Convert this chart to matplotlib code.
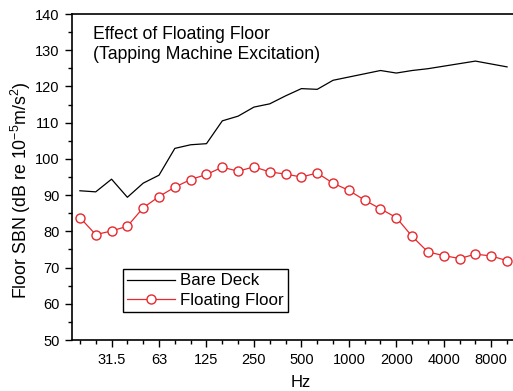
import matplotlib.pyplot as plt

plt.rcParams['font.family'] = ['Liberation Sans', 'DejaVu Sans']
plt.rcParams['mathtext.fontset'] = 'custom'
plt.rcParams['mathtext.rm'] = 'Liberation Sans'
plt.rcParams['mathtext.it'] = 'Liberation Sans'

# third-octave bands 20 Hz .. 10 kHz
bands = ['20', '25', '31.5', '40', '50', '63', '80', '100', '125', '160', '200', '250',
         '315', '400', '500', '630', '800', '1000', '1250', '1600', '2000', '2500',
         '3150', '4000', '5000', '6300', '8000', '10000']
tick_labels = ['31.5', '63', '125', '250', '500', '1000', '2000', '4000', '8000']

bare_deck = [91.2, 90.9, 94.4, 89.4, 93.3, 95.5, 102.9, 103.9, 104.2, 110.5, 111.8, 114.3,
             115.2, 117.4, 119.4, 119.2, 121.7, 122.6, 123.5, 124.4, 123.7, 124.4,
             124.9, 125.6, 126.3, 127.0, 126.2, 125.4]
floating_floor = [83.8, 79.1, 80.1, 81.4, 86.5, 89.6, 92.2, 94.3, 95.7, 97.7, 96.6, 97.8,
                  96.4, 95.8, 95.0, 96.1, 93.3, 91.3, 88.6, 86.2, 83.8, 78.6,
                  74.3, 73.3, 72.5, 73.7, 73.2, 71.9]

x = list(range(len(bands)))

fig = plt.figure(figsize=(5.13, 3.91), dpi=100)
ax = fig.add_axes([72 / 513, 1 - 340 / 391, 458 / 513, 326 / 391])

ax.plot(x, bare_deck, color='black', lw=0.9, label='Bare Deck')
ax.plot(x, floating_floor, color='#e8282d', lw=0.9, marker='o', ms=6.5,
        markerfacecolor='white', markeredgecolor='#e8282d', markeredgewidth=1.0,
        label='Floating Floor')

ax.set_xlim(-0.5, 28.45)
ax.set_ylim(50, 140)

ax.set_xticks([bands.index(t) for t in tick_labels])
ax.set_xticklabels(tick_labels)
ax.set_xticks(x, minor=True)
ax.set_yticks(range(50, 141, 10))
ax.set_yticks(range(50, 141, 5), minor=True)

ax.tick_params(which='major', direction='out', length=5, width=1, labelsize=10.5, pad=4)
ax.tick_params(which='minor', direction='out', length=3, width=1)
for s in ax.spines.values():
    s.set_linewidth(1.2)

ax.set_xlabel('Hz', fontsize=12, labelpad=6)
ax.set_ylabel('Floor SBN (dB re 10$^{-5}$m/s$^2$)', fontsize=12.8)
ax.yaxis.set_label_coords(-0.085, 0.46)

ax.text(0.045, 0.962, 'Effect of Floating Floor\n(Tapping Machine Excitation)',
        transform=ax.transAxes, fontsize=12.7, va='top', ha='left', linespacing=1.18)

leg = ax.legend(loc='lower left', bbox_to_anchor=(0.111, 0.086), fontsize=12.2,
                frameon=True, fancybox=False, edgecolor='black', framealpha=1,
                handlelength=2.8, borderpad=0.25, borderaxespad=0,
                labelspacing=0.25, handletextpad=0.35)
leg.get_frame().set_linewidth(1.0)

fig.savefig('out.png', dpi=100)
